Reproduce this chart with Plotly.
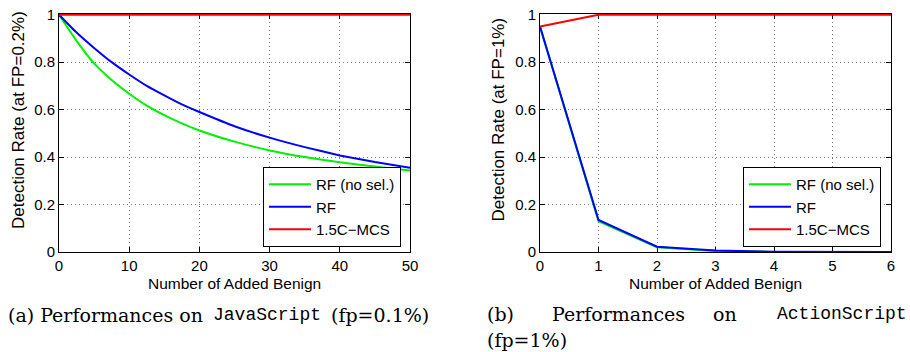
import plotly.graph_objects as go

# ---- data ----
js_x = [0, 2.5, 5, 7.5, 10, 12.5, 15, 17.5, 20, 25, 30, 35, 40, 45, 50]
js_rf_nosel = [1.0, 0.89, 0.795, 0.725, 0.667, 0.617, 0.577, 0.542, 0.512, 0.465, 0.428, 0.40, 0.378, 0.36, 0.343]
js_rf = [1.0, 0.925, 0.86, 0.80, 0.748, 0.70, 0.66, 0.622, 0.59, 0.53, 0.482, 0.442, 0.407, 0.379, 0.355]
js_mcs = [1.0] * len(js_x)

as_x = [0, 1, 2, 3, 4, 5, 6]
as_rf_nosel = [0.95, 0.13, 0.02, 0.004, 0.0, 0.0, 0.0]
as_rf = [0.95, 0.135, 0.022, 0.006, 0.001, 0.0, 0.0]
as_mcs = [0.95, 1.0, 1.0, 1.0, 1.0, 1.0, 1.0]

series_names = ["RF (no sel.)", "RF", "1.5C\u2212MCS"]
series_colors = ["#00f000", "#0000ff", "#ff0000"]

x_ticks_js = [0, 10, 20, 30, 40, 50]
x_ticks_as = [0, 1, 2, 3, 4, 5, 6]
y_ticks = [0, 0.2, 0.4, 0.6, 0.8, 1]

W, H = 910, 352
SANS = "Liberation Sans, Arial, sans-serif"
SERIF = "DejaVu Serif, serif"
MONO = "Liberation Mono, DejaVu Sans Mono, monospace"

fig = go.Figure()
for ys, name, col in zip([js_rf_nosel, js_rf, js_mcs], series_names, series_colors):
    fig.add_trace(go.Scatter(x=js_x, y=ys, name=name, mode="lines",
                             line=dict(color=col, width=2, shape="spline", smoothing=0.4),
                             xaxis="x", yaxis="y", legend="legend"))
for ys, name, col in zip([as_rf_nosel, as_rf, as_mcs], series_names, series_colors):
    fig.add_trace(go.Scatter(x=as_x, y=ys, name=name, mode="lines", line=dict(color=col, width=2),
                             xaxis="x2", yaxis="y2", legend="legend2"))

def px_x(p):
    return p / W

def px_y(p):
    return 1 - p / H

ydom = [px_y(252), px_y(14)]
axis_common = dict(showline=True, linecolor="black", linewidth=1, mirror="ticks",
                   ticks="inside", ticklen=5, tickcolor="black",
                   showgrid=True, gridcolor="#777", griddash="1px,3px", gridwidth=1,
                   zeroline=False, tickfont=dict(family=SANS, size=15, color="black"),
                   layer="below traces", automargin=False, ticklabeloverflow="allow")

leg_common = dict(xanchor="right", yanchor="bottom", bgcolor="white",
                  bordercolor="black", borderwidth=1, font=dict(family=SANS, size=15, color="black"),
                  itemwidth=42, tracegroupgap=0)

fig.update_layout(
    template="none",
    width=W, height=H, margin=dict(l=0, r=0, t=0, b=0, autoexpand=False),
    paper_bgcolor="white", plot_bgcolor="white", showlegend=True,
    xaxis=dict(domain=[px_x(59), px_x(410)], range=[0, 50], tickvals=x_ticks_js, anchor="y", **axis_common),
    yaxis=dict(domain=ydom, range=[0, 1.003], tickvals=y_ticks, anchor="x", **axis_common),
    xaxis2=dict(domain=[px_x(540), px_x(891)], range=[0, 6], tickvals=x_ticks_as, anchor="y2", **axis_common),
    yaxis2=dict(domain=ydom, range=[0, 1.003], tickvals=y_ticks, anchor="x2", **axis_common),
    legend=dict(x=px_x(401), y=px_y(247), **leg_common),
    legend2=dict(x=px_x(881), y=px_y(247), **leg_common),
)

ann = []
lab_font = dict(family=SANS, size=15.5, color="black")
for cx in [(59 + 410) / 2, (540 + 891) / 2]:
    ann.append(dict(text="Number of Added Benign", x=px_x(cx), y=px_y(283.5), xref="paper", yref="paper",
                    showarrow=False, font=lab_font, xanchor="center", yanchor="middle"))
ytitle_font = dict(family=SANS, size=17, color="black")
ann.append(dict(text="Detection Rate (at FP=0.2%)", x=px_x(19), y=px_y(120), xref="paper", yref="paper", textangle=-90,
                showarrow=False, font=ytitle_font, xanchor="center", yanchor="middle"))
ann.append(dict(text="Detection Rate (at FP=1%)", x=px_x(498.5), y=px_y(120), xref="paper", yref="paper", textangle=-90,
                showarrow=False, font=ytitle_font, xanchor="center", yanchor="middle"))

cap_font = dict(family=SERIF, size=19, color="black")
mono_font = dict(family=MONO, size=18, color="black")
# caption (a) pieces
ann.append(dict(text="(a) Performances on", x=px_x(6), y=px_y(315), xref="paper", yref="paper", showarrow=False,
                font=cap_font, xanchor="left", yanchor="middle"))
ann.append(dict(text="JavaScript", x=px_x(211), y=px_y(315), xref="paper", yref="paper", showarrow=False,
                font=mono_font, xanchor="left", yanchor="middle"))
ann.append(dict(text="(fp=0.1%)", x=px_x(431), y=px_y(315), xref="paper", yref="paper", showarrow=False,
                font=cap_font, xanchor="right", yanchor="middle"))
# caption (b), justified line
for word, xl in [("(b)", 485), ("Performances", 550), ("on", 711)]:
    ann.append(dict(text=word, x=px_x(xl), y=px_y(314), xref="paper", yref="paper", showarrow=False, font=cap_font,
                    xanchor="left", yanchor="middle"))
ann.append(dict(text="ActionScript", x=px_x(909), y=px_y(314), xref="paper", yref="paper", showarrow=False,
                font=mono_font, xanchor="right", yanchor="middle"))
ann.append(dict(text="(fp=1%)", x=px_x(485), y=px_y(340), xref="paper", yref="paper", showarrow=False, font=cap_font,
                xanchor="left", yanchor="middle"))
fig.update_layout(annotations=ann)

# remove the browser's default 8px body margin so the figure fills the window exactly
fig.write_html("out.html", config={"displayModeBar": False},
               post_script="document.body.style.margin='0';document.body.style.overflow='hidden';")
